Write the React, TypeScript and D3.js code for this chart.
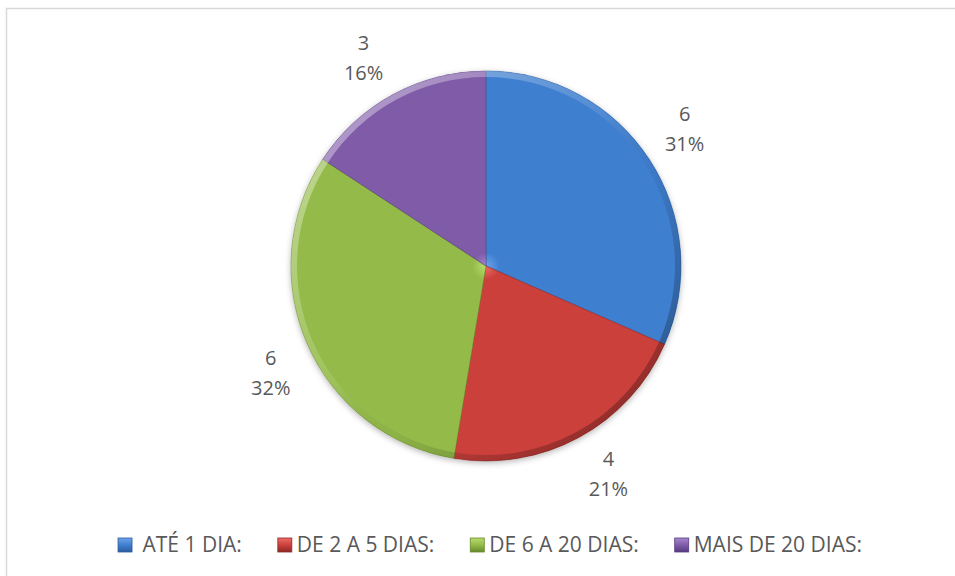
import * as d3 from "d3";
import { useEffect, useRef } from "react";

const categories = [" ATÉ 1 DIA:", "DE 2 A 5 DIAS:", "DE 6 A 20 DIAS:", "MAIS DE 20 DIAS:"];
const counts = [6, 4, 6, 3];
const percentLabels = ["31%", "21%", "32%", "16%"];
const colors = ["#3f7fcf", "#cc403c", "#94bb49", "#7f5ba8"];
const lightColors = ["#6fa3ea", "#ec6c66", "#b9dc6c", "#a887d0"];
const darkColors = ["#2b5c9e", "#8c2826", "#68892c", "#573b7e"];

const App = () => {
  const ref = useRef(null);

  useEffect(() => {
    const width = 955,
      height = 576;
    const cx = 486,
      cy = 266,
      r = 195;

    const svg = d3.select(ref.current);
    svg.selectAll("*").remove();

    const defs = svg.append("defs");
    const shadow = defs.append("filter").attr("id", "shadow").attr("x", "-20%").attr("y", "-20%").attr("width", "140%").attr("height", "140%");
    shadow.append("feDropShadow").attr("dx", 0).attr("dy", 2).attr("stdDeviation", 3).attr("flood-color", "#000").attr("flood-opacity", 0.3);

    // rim: light from top-left, dark to bottom-right (bevel look)
    const rim = defs.append("linearGradient").attr("id", "rim")
      .attr("gradientUnits", "userSpaceOnUse")
      .attr("x1", -r).attr("y1", -r).attr("x2", r).attr("y2", r);
    rim.append("stop").attr("offset", "0%").attr("stop-color", "#fff").attr("stop-opacity", 0.5);
    rim.append("stop").attr("offset", "45%").attr("stop-color", "#fff").attr("stop-opacity", 0.1);
    rim.append("stop").attr("offset", "60%").attr("stop-color", "#000").attr("stop-opacity", 0.05);
    rim.append("stop").attr("offset", "100%").attr("stop-color", "#000").attr("stop-opacity", 0.4);

    colors.forEach((c, i) => {
      const g = defs.append("radialGradient").attr("id", "fill" + i).attr("gradientUnits", "userSpaceOnUse")
        .attr("cx", 0).attr("cy", 0).attr("r", r);
      g.append("stop").attr("offset", "0%").attr("stop-color", lightColors[i]);
      g.append("stop").attr("offset", "7%").attr("stop-color", c);
      g.append("stop").attr("offset", "100%").attr("stop-color", c);
      const lg = defs.append("linearGradient").attr("id", "leg" + i).attr("x1", 0).attr("y1", 0).attr("x2", 0).attr("y2", 1);
      lg.append("stop").attr("offset", "0%").attr("stop-color", lightColors[i]);
      lg.append("stop").attr("offset", "50%").attr("stop-color", c);
      lg.append("stop").attr("offset", "100%").attr("stop-color", darkColors[i]);
    });

    // chart frame
    svg.append("rect")
      .attr("x", 6.5).attr("y", 8.5)
      .attr("width", width + 40).attr("height", height + 40)
      .attr("fill", "#fff").attr("stroke", "#d9d9d9").attr("stroke-width", 1.5);

    const pie = d3.pie().value((d) => d).sort(null);
    const arcs = pie(counts);
    const arc = d3.arc().innerRadius(0).outerRadius(r);
    const rimArc = d3.arc().innerRadius(r - 6).outerRadius(r);

    const g = svg.append("g").attr("transform", `translate(${cx},${cy})`);

    g.append("g").attr("filter", "url(#shadow)")
      .selectAll("path")
      .data(arcs)
      .join("path")
      .attr("d", arc)
      .attr("fill", (d, i) => colors[i]);

    g.selectAll("path.slice")
      .data(arcs)
      .join("path")
      .attr("class", "slice")
      .attr("d", arc)
      .attr("fill", (d, i) => `url(#fill${i})`)
      .attr("stroke", (d, i) => darkColors[i])
      .attr("stroke-opacity", 0.5)
      .attr("stroke-width", 1);

    g.selectAll("path.rim")
      .data(arcs)
      .join("path")
      .attr("class", "rim")
      .attr("d", rimArc)
      .attr("fill", "url(#rim)");

    // data labels, outside end: inner corner of the label box sits on a ring
    const labels = g.append("g")
      .attr("font-family", "'Open Sans', sans-serif")
      .attr("font-size", 20)
      .attr("fill", "#595959")
      .attr("text-anchor", "middle");
    const ring = 211,
      halfW = 22,
      halfH = 22;
    arcs.forEach((d, i) => {
      const a = (d.startAngle + d.endAngle) / 2;
      const ux = Math.sin(a),
        uy = -Math.cos(a);
      const lx = ux * ring + Math.sign(ux) * halfW;
      const ly = uy * ring + Math.sign(uy) * halfH;
      const t = labels.append("text").attr("x", lx).attr("y", ly);
      t.append("tspan").attr("x", lx).attr("dy", "-0.4em").text(counts[i]);
      t.append("tspan").attr("x", lx).attr("dy", "1.5em").text(percentLabels[i]);
    });

    // legend
    const legend = svg.append("g")
      .attr("font-family", "'Open Sans', sans-serif")
      .attr("font-size", 21)
      .attr("fill", "#595959");
    const box = 14,
      gapText = 5,
      gapItem = 36,
      legY = 545;
    const items = legend.selectAll("g").data(categories).join("g");
    items.append("rect")
      .attr("width", box).attr("height", box)
      .attr("y", legY - box / 2)
      .attr("fill", (d, i) => `url(#leg${i})`)
      .attr("stroke", (d, i) => darkColors[i]).attr("stroke-width", 0.8);
    items.append("text")
      .attr("x", box + gapText)
      .attr("y", legY)
      .attr("dy", "0.35em")
      .style("white-space", "pre")
      .text((d) => d);
    const widths = [];
    items.select("text").each(function () {
      widths.push(this.getComputedTextLength());
    });
    const total = d3.sum(widths) + categories.length * (box + gapText) + (categories.length - 1) * gapItem;
    let x = 490 - total / 2;
    items.each(function (d, i) {
      d3.select(this).attr("transform", `translate(${x},0)`);
      x += box + gapText + widths[i] + gapItem;
    });
  }, []);

  return <svg width={955} height={576} ref={ref} style={{ position: "absolute", left: 0, top: 0 }} />;
};

export default App;
